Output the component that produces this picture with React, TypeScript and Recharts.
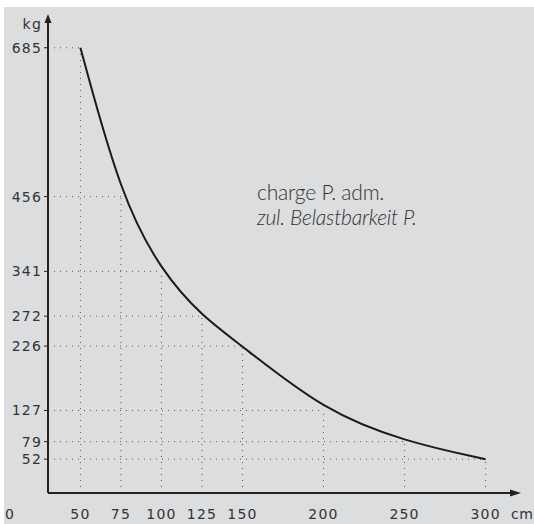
import React from "react";
import {
  LineChart,
  Line,
  XAxis,
  YAxis,
  ReferenceLine,
  ReferenceDot,
} from "recharts";

// span (cm) and allowed load (kg)
const lengths = [50, 75, 100, 125, 150, 200, 250, 300];
const loads = [685, 456, 341, 272, 226, 127, 79, 52];
const yTicks = [52, 79, 127, 226, 272, 341, 456, 685];

const X_MIN = 30;
const X_MAX = 320;
const Y_MAX = 720;

const data = lengths.map((l, i) => ({ len: l, load: loads[i] }));

const ink = "#222";
const dotted = "#555";
const tickFont = {
  fill: "#333",
  fontSize: 14,
  fontFamily: "DejaVu Sans",
  letterSpacing: 1.2,
};

const ArrowRight = (p: any) => (
  <path
    d={`M${p.cx - 8},${p.cy - 3.5} L${p.cx + 3},${p.cy} L${p.cx - 8},${p.cy + 3.5} Z`}
    fill={ink}
  />
);

const ArrowUp = (p: any) => (
  <g>
    <line x1={p.cx} y1={p.cy} x2={p.cx} y2={p.cy - 3} stroke={ink} strokeWidth={2} />
    <path
      d={`M${p.cx - 3.5},${p.cy - 2} L${p.cx},${p.cy - 11} L${p.cx + 3.5},${p.cy - 2} Z`}
      fill={ink}
    />
  </g>
);

export default function App() {
  return (
    <div
      style={{
        position: "absolute",
        left: 4,
        top: 7,
        width: 530,
        height: 517,
        background: "#dcdddf",
      }}
    >
      <LineChart
        width={530}
        height={517}
        data={data}
        margin={{ top: 18, right: 16, bottom: 1, left: 0 }}
      >
        <XAxis
          dataKey="len"
          type="number"
          domain={[X_MIN, X_MAX]}
          ticks={lengths}
          interval={0}
          height={30}
          tickLine={false}
          tickSize={0}
          tickMargin={16}
          axisLine={{ stroke: ink, strokeWidth: 2 }}
          tick={tickFont}
          allowDataOverflow
        />
        <YAxis
          type="number"
          domain={[0, Y_MAX]}
          ticks={yTicks}
          interval={0}
          width={44}
          tickSize={4}
          tickMargin={2}
          tickLine={{ stroke: ink, strokeWidth: 1 }}
          axisLine={{ stroke: ink, strokeWidth: 2 }}
          tick={tickFont}
          allowDataOverflow
        />
        {lengths.map((l, i) => (
          <ReferenceLine
            key={"h" + l}
            segment={[
              { x: X_MIN, y: loads[i] },
              { x: l, y: loads[i] },
            ]}
            stroke={dotted}
            strokeWidth={1}
            strokeDasharray="1 5"
          />
        ))}
        {lengths.map((l, i) => (
          <ReferenceLine
            key={"v" + l}
            segment={[
              { x: l, y: 0 },
              { x: l, y: loads[i] },
            ]}
            stroke={dotted}
            strokeWidth={1}
            strokeDasharray="1 5"
          />
        ))}
        <Line
          dataKey="load"
          type="basis"
          stroke="#1a1a1a"
          strokeWidth={2}
          dot={false}
          isAnimationActive={false}
        />
        <ReferenceDot x={X_MAX} y={0} r={0} shape={ArrowRight} ifOverflow="visible" />
        <ReferenceDot x={X_MIN} y={Y_MAX} r={0} shape={ArrowUp} ifOverflow="visible" />
        <text x={38} y={22} textAnchor="end" {...tickFont}>
          kg
        </text>
        <text x={1} y={512} {...tickFont}>
          0
        </text>
        <text x={507} y={512} {...tickFont} letterSpacing={0.5}>
          cm
        </text>
        <text
          x={253}
          y={193}
          fill="#333"
          fontSize={21}
          fontWeight={300}
          fontFamily="Lato"
          letterSpacing={-0.2}
        >
          charge P. adm.
        </text>
        <text
          x={253}
          y={218}
          fill="#333"
          fontSize={21}
          fontWeight={300}
          fontFamily="Lato"
          fontStyle="italic"
          letterSpacing={-0.2}
        >
          zul. Belastbarkeit P.
        </text>
      </LineChart>
    </div>
  );
}
